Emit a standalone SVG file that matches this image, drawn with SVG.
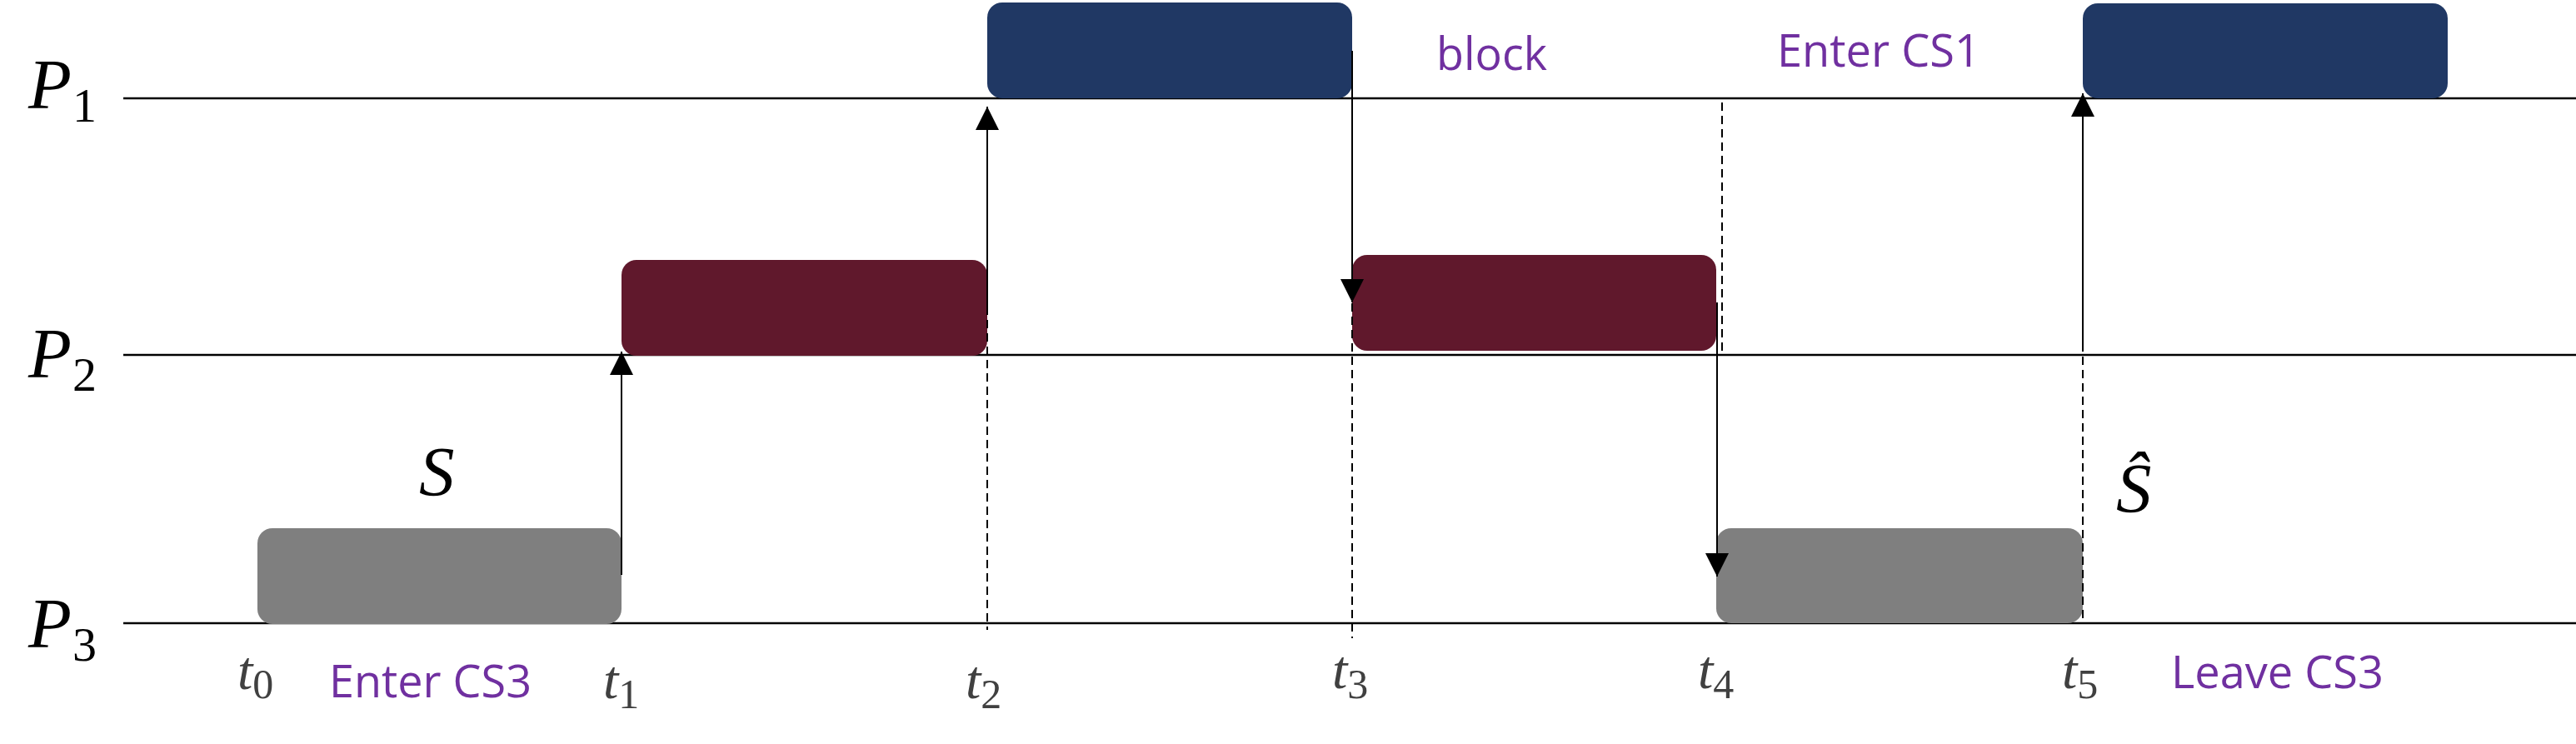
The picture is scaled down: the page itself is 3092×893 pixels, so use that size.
<svg xmlns="http://www.w3.org/2000/svg" width="3092" height="893" viewBox="0 0 3092 893">
  <style>
    .axis { stroke: #000; stroke-width: 2.5; fill: none; }
    .arrow { stroke: #000; stroke-width: 2; fill: none; marker-end: url(#ah); }
    .dash { stroke: #000; stroke-width: 2; fill: none; stroke-dasharray: 10 6; }
    .blue { fill: #203864; }
    .maroon { fill: #60182C; }
    .gray { fill: #7F7F7F; }
    .math { font-family: "Liberation Serif", "DejaVu Serif", serif; font-style: italic; fill: #000; }
    .sub { font-style: normal; }
    .tl { font-family: "Liberation Serif", "DejaVu Serif", serif; font-style: italic; font-size: 66px; fill: #404040; }
    .tsub { font-style: normal; font-size: 50px; }
    .note { font-family: "Open Sans", "Noto Sans", sans-serif; font-size: 55px; fill: #7030A0; }
  </style>
  <defs>
    <marker id="ah" markerUnits="userSpaceOnUse" markerWidth="28" markerHeight="28" viewBox="0 0 26 26" refX="26" refY="13" orient="auto">
      <path d="M0,0 L26,13 L0,26 z" fill="#000"/>
    </marker>
  </defs>

  <g id="timelines">
    <line class="axis" x1="148" y1="118" x2="3092" y2="118"/>
    <line class="axis" x1="148" y1="426" x2="3092" y2="426"/>
    <line class="axis" x1="148" y1="748" x2="3092" y2="748"/>
  </g>

  <g id="process-labels">
    <text class="math" x="34" y="130" font-size="85">P<tspan class="sub" dx="1" dy="16" font-size="58">1</tspan></text>
    <text class="math" x="34" y="453" font-size="85">P<tspan class="sub" dx="1" dy="16" font-size="58">2</tspan></text>
    <text class="math" x="34" y="777" font-size="85">P<tspan class="sub" dx="1" dy="16" font-size="58">3</tspan></text>
  </g>

  <g id="S3-first"><rect class="gray" x="309" y="634" width="437" height="115" rx="18" ry="18"/></g>
  <g id="S2-first"><rect class="maroon" x="746" y="312" width="439" height="115" rx="18" ry="18"/></g>
  <g id="S1-first"><rect class="blue" x="1185" y="3" width="438" height="115" rx="18" ry="18"/></g>
  <g id="S2-second"><rect class="maroon" x="1623" y="306" width="437" height="115" rx="18" ry="18"/></g>
  <g id="S3-second"><rect class="gray" x="2060" y="634" width="440" height="114" rx="18" ry="18"/></g>
  <g id="S1-second"><rect class="blue" x="2500" y="4" width="438" height="114" rx="18" ry="18"/></g>

  <g id="connectors">
    <line class="arrow" x1="746" y1="690" x2="746" y2="422"/>
    <line class="arrow" x1="1185" y1="368" x2="1185" y2="128"/>
    <line class="arrow" x1="1623" y1="61" x2="1623" y2="363"/>
    <line class="arrow" x1="2061" y1="363" x2="2061" y2="692"/>
    <line class="arrow" x1="2500" y1="422" x2="2500" y2="112"/>
    <line class="dash" x1="1185" y1="368" x2="1185" y2="756"/>
    <line class="dash" x1="1623" y1="364" x2="1623" y2="766"/>
    <line class="dash" x1="2067" y1="123" x2="2067" y2="421"/>
    <line class="dash" x1="2500" y1="428" x2="2500" y2="748"/>
  </g>

  <g id="time-labels">
    <text class="tl" x="285" y="827">t<tspan class="tsub" dx="0" dy="11">0</tspan></text>
    <text class="tl" x="724" y="838">t<tspan class="tsub" dx="0" dy="12">1</tspan></text>
    <text class="tl" x="1159" y="838">t<tspan class="tsub" dx="0" dy="12">2</tspan></text>
    <text class="tl" x="1599" y="826">t<tspan class="tsub" dx="0" dy="12">3</tspan></text>
    <text class="tl" x="2038" y="826">t<tspan class="tsub" dx="0" dy="12">4</tspan></text>
    <text class="tl" x="2475" y="826">t<tspan class="tsub" dx="0" dy="12">5</tspan></text>
  </g>

  <g id="section-labels">
    <text class="math" x="503" y="595" font-size="85">S</text>
    <text class="math" x="2540" y="615" font-size="85">Ŝ</text>
  </g>

  <g id="annotations">
    <text class="note" x="395" y="837" textLength="243" lengthAdjust="spacingAndGlyphs">Enter CS3</text>
    <text class="note" x="1724" y="84" textLength="133" lengthAdjust="spacingAndGlyphs">block</text>
    <text class="note" x="2133" y="80" textLength="244" lengthAdjust="spacingAndGlyphs">Enter CS1</text>
    <text class="note" x="2606" y="826" textLength="255" lengthAdjust="spacingAndGlyphs">Leave CS3</text>
  </g>
</svg>
